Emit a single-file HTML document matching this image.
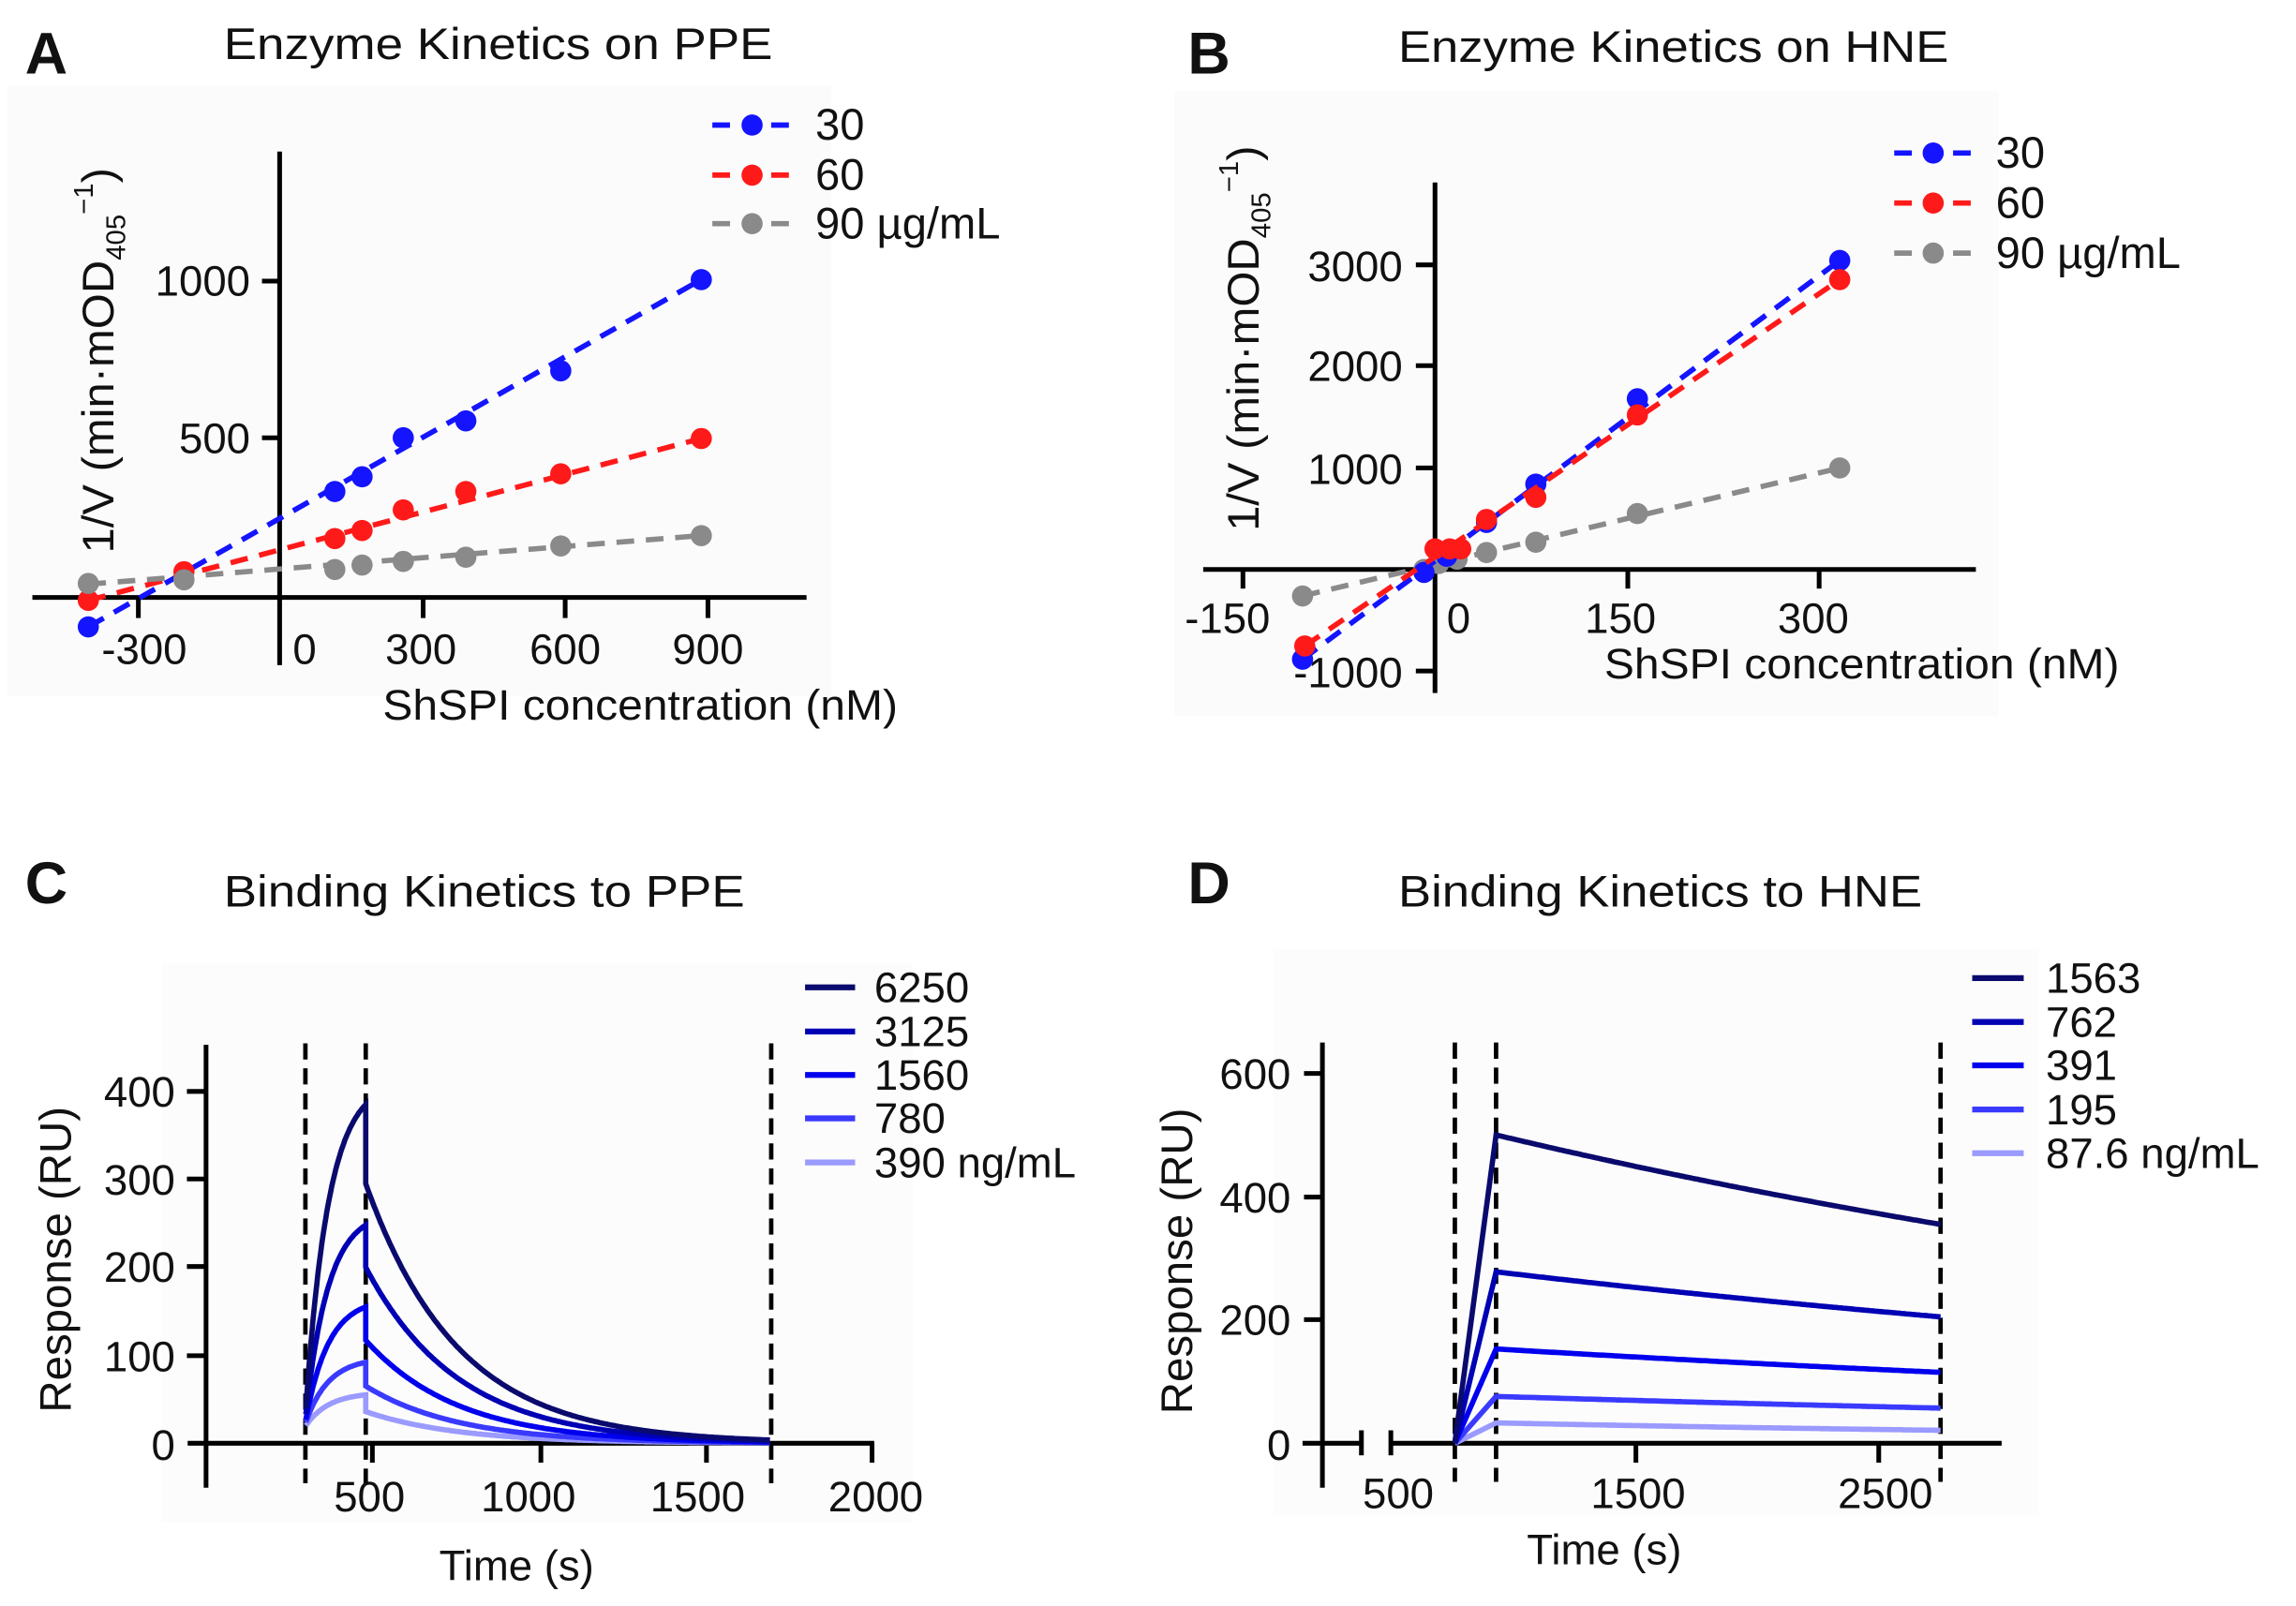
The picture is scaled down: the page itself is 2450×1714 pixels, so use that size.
<!DOCTYPE html>
<html><head><meta charset="utf-8"><style>
html,body{margin:0;padding:0;background:#fff;}
svg{display:block;}
text{font-family:"Liberation Sans",Arial,sans-serif;fill:#111;}
</style></head><body>
<svg id="s" width="2450" height="1714" viewBox="0 0 1560 1091.4" preserveAspectRatio="none" xmlns="http://www.w3.org/2000/svg">
<rect x="0" y="0" width="1560" height="1092" fill="#fff"/>
<rect x="5" y="58" width="560" height="415" fill="#fbfbfb"/>
<rect x="798" y="62" width="560" height="425" fill="#fbfbfb"/>
<rect x="110" y="655" width="510" height="380" fill="#fcfcfc"/>
<rect x="865" y="645" width="520" height="385" fill="#fcfcfc"/>

<!-- Panel A -->
<text x="17" y="50" font-size="40" font-weight="bold">A</text>
<text x="152" y="40" font-size="30" textLength="373" lengthAdjust="spacingAndGlyphs">Enzyme Kinetics on PPE</text>
<g stroke="#000" stroke-width="3.2" fill="none">
<line x1="190" y1="103" x2="190" y2="452"/>
<line x1="22" y1="406" x2="548" y2="406"/>
<line x1="190" y1="191" x2="178" y2="191"/>
<line x1="190" y1="297.5" x2="178" y2="297.5"/>
<line x1="94" y1="406" x2="94" y2="420"/>
<line x1="287.5" y1="406" x2="287.5" y2="420"/>
<line x1="384" y1="406" x2="384" y2="420"/>
<line x1="481" y1="406" x2="481" y2="420"/>
</g>
<g font-size="29" text-anchor="end">
<text x="170" y="201">1000</text>
<text x="170" y="308">500</text>
</g>
<g font-size="29" text-anchor="middle">
<text x="98" y="451">-300</text>
<text x="207" y="451">0</text>
<text x="286" y="451">300</text>
<text x="384" y="451">600</text>
<text x="481" y="451">900</text>
</g>
<text x="260" y="489" font-size="29" textLength="350" lengthAdjust="spacingAndGlyphs">ShSPI concentration (nM)</text>
<text transform="translate(77,376) rotate(-90)" font-size="30" textLength="262" lengthAdjust="spacingAndGlyphs">1/V (min·mOD<tspan font-size="18" dy="8">405</tspan><tspan dy="-22" font-size="18">−1</tspan><tspan dy="14" font-size="30">)</tspan></text>

<g id="A"></g>

<!-- Panel B -->
<text x="807" y="50" font-size="40" font-weight="bold">B</text>
<text x="950" y="42" font-size="30" textLength="374" lengthAdjust="spacingAndGlyphs">Enzyme Kinetics on HNE</text>
<g stroke="#000" stroke-width="3.2" fill="none">
<line x1="975" y1="124" x2="975" y2="471"/>
<line x1="817.5" y1="387" x2="1342.5" y2="387"/>
<line x1="975" y1="180" x2="962" y2="180"/>
<line x1="975" y1="248.5" x2="962" y2="248.5"/>
<line x1="975" y1="318" x2="962" y2="318"/>
<line x1="975" y1="456" x2="962" y2="456"/>
<line x1="844.5" y1="387" x2="844.5" y2="400"/>
<line x1="1106" y1="387" x2="1106" y2="400"/>
<line x1="1236" y1="387" x2="1236" y2="400"/>
</g>
<g font-size="29" text-anchor="end">
<text x="953" y="191">3000</text>
<text x="953" y="259">2000</text>
<text x="953" y="329">1000</text>
<text x="953" y="467">-1000</text>
</g>
<g font-size="29" text-anchor="middle">
<text x="834" y="430">-150</text>
<text x="991" y="430">0</text>
<text x="1101" y="430">150</text>
<text x="1232" y="430">300</text>
</g>
<text x="1090" y="461" font-size="29" textLength="350" lengthAdjust="spacingAndGlyphs">ShSPI concentration (nM)</text>
<text transform="translate(855,361) rotate(-90)" font-size="30" textLength="262" lengthAdjust="spacingAndGlyphs">1/V (min·mOD<tspan font-size="18" dy="8">405</tspan><tspan dy="-22" font-size="18">−1</tspan><tspan dy="14" font-size="30">)</tspan></text>

<g id="B"></g>

<!-- Panel C -->
<text x="17" y="614" font-size="40" font-weight="bold">C</text>
<text x="152" y="616" font-size="30" textLength="354" lengthAdjust="spacingAndGlyphs">Binding Kinetics to PPE</text>
<g stroke="#000" stroke-width="3.2" fill="none">
<line x1="140" y1="710" x2="140" y2="1011"/>
<line x1="127.5" y1="980.8" x2="594" y2="980.8"/>
<line x1="140" y1="741.7" x2="127" y2="741.7"/>
<line x1="140" y1="801.2" x2="127" y2="801.2"/>
<line x1="140" y1="860.7" x2="127" y2="860.7"/>
<line x1="140" y1="921.3" x2="127" y2="921.3"/>
<line x1="253" y1="980.8" x2="253" y2="994"/>
<line x1="367.5" y1="980.8" x2="367.5" y2="994"/>
<line x1="480" y1="980.8" x2="480" y2="994"/>
<line x1="592.5" y1="980.8" x2="592.5" y2="994"/>
</g>
<g font-size="29" text-anchor="end">
<text x="119" y="752">400</text>
<text x="119" y="812">300</text>
<text x="119" y="871">200</text>
<text x="119" y="932">100</text>
<text x="119" y="992">0</text>
</g>
<g font-size="29" text-anchor="middle">
<text x="251" y="1027">500</text>
<text x="359" y="1027">1000</text>
<text x="474" y="1027">1500</text>
<text x="595" y="1027">2000</text>
</g>
<text x="351" y="1074" font-size="29" text-anchor="middle">Time (s)</text>
<text transform="translate(48,856) rotate(-90)" font-size="30" text-anchor="middle" textLength="208" lengthAdjust="spacingAndGlyphs">Response (RU)</text>
<g stroke="#000" stroke-width="3" stroke-dasharray="11 6">
<line x1="207.5" y1="709" x2="207.5" y2="1008"/>
<line x1="248.5" y1="709" x2="248.5" y2="1008"/>
<line x1="524" y1="709" x2="524" y2="1008"/>
</g>
<g id="C"></g>

<!-- Panel D -->
<text x="807" y="614" font-size="40" font-weight="bold">D</text>
<text x="950" y="616" font-size="30" textLength="356" lengthAdjust="spacingAndGlyphs">Binding Kinetics to HNE</text>
<g stroke="#000" stroke-width="3.2" fill="none">
<line x1="898.5" y1="708.5" x2="898.5" y2="1011"/>
<line x1="885" y1="980.8" x2="925" y2="980.8"/>
<line x1="945" y1="980.8" x2="1360" y2="980.8"/>
<line x1="925" y1="972" x2="925" y2="989"/>
<line x1="945" y1="972" x2="945" y2="989"/>
<line x1="898.5" y1="729.5" x2="886" y2="729.5"/>
<line x1="898.5" y1="813.5" x2="886" y2="813.5"/>
<line x1="898.5" y1="896.8" x2="886" y2="896.8"/>
<line x1="1111.5" y1="980.8" x2="1111.5" y2="994"/>
<line x1="1276.5" y1="980.8" x2="1276.5" y2="994"/>
</g>
<g font-size="29" text-anchor="end">
<text x="877" y="740">600</text>
<text x="877" y="824">400</text>
<text x="877" y="907">200</text>
<text x="877" y="992">0</text>
</g>
<g font-size="29" text-anchor="middle">
<text x="950" y="1025">500</text>
<text x="1113" y="1025">1500</text>
<text x="1281" y="1025">2500</text>
</g>
<text x="1090" y="1063" font-size="29" text-anchor="middle">Time (s)</text>
<text transform="translate(810,857) rotate(-90)" font-size="30" text-anchor="middle" textLength="208" lengthAdjust="spacingAndGlyphs">Response (RU)</text>
<g stroke="#000" stroke-width="3" stroke-dasharray="11 6">
<line x1="988.5" y1="708.5" x2="988.5" y2="1007"/>
<line x1="1016.5" y1="708.5" x2="1016.5" y2="1007"/>
<line x1="1318.5" y1="708.5" x2="1318.5" y2="1007"/>
</g>
<g id="D"></g>
</svg>
<script>
var NS="http://www.w3.org/2000/svg";
function el(p,tag,attrs,txt){var e=document.createElementNS(NS,tag);for(var k in attrs)e.setAttribute(k,attrs[k]);if(txt)e.textContent=txt;document.getElementById(p).appendChild(e);return e;}
function series(g,pts,line,col){
 el(g,"line",{x1:line[0],y1:line[1],x2:line[2],y2:line[3],stroke:col,"stroke-width":3.6,"stroke-dasharray":"12 8"});
 pts.forEach(function(p){el(g,"circle",{cx:p[0],cy:p[1],r:7.2,fill:col});});
}
function legendK(g,x0,x1,xt,ys,cols,labels){
 for(var i=0;i<ys.length;i++){
  el(g,"line",{x1:x0,y1:ys[i],x2:x1,y2:ys[i],stroke:cols[i],"stroke-width":3.6,"stroke-dasharray":"12 8"});
  el(g,"circle",{cx:(x0+x1)/2,cy:ys[i],r:7.2,fill:cols[i]});
  el(g,"text",{x:xt,y:ys[i]+10,"font-size":30},labels[i]);
 }
}
var blue="#1414ff",red="#ff1a1a",gray="#8a8a8a";
series("A",[[60,426],[227.5,334],[246,324],[274,297.5],[316.5,286],[381,252],[476.5,190]],[60,426,476.5,190],blue);
series("A",[[60,408],[125,388.5],[227.5,366],[246,360.5],[274,346.5],[316.5,334],[381,322],[476.5,298]],[60,408,476.5,298],red);
series("A",[[60,396.5],[125,394],[227.5,387],[246,384],[274,381.5],[316.5,378.7],[381,371],[476.5,364]],[60,397,476.5,364],gray);
legendK("A",484,538,554,[85,119,152],[blue,red,gray],["30","60","90 µg/mL"]);
series("B",[[885,405],[967.5,387],[977.5,383],[990,380],[1010,375.5],[1043.5,368.5],[1112.5,349],[1250,318]],[885,405,1250,318],gray);
series("B",[[885,448],[967.5,389],[983,378],[1010,355],[1043.5,329],[1112.5,271],[1250,177]],[885,448,1250,177],blue);
series("B",[[886.5,439],[975,373],[985,373],[992.5,373],[1010,353],[1043.5,338],[1112.5,282],[1250,190]],[886.5,439,1250,190],red);
legendK("B",1287,1340,1356,[104,138,172],[blue,red,gray],["30","60","90 µg/mL"]);
var cc=["#0a0a6e","#0000b4","#0000ee","#3a3aff","#9a9aff"];
var cpk=[[385,295,40],[248,200,33],[155,117,27],[92,65,24],[55,36,20]];
function xC(t){return 140+t*(113/500);}function yC(r){return 980.8-r*0.598;}
for(var i=4;i>=0;i--){
 var P=cpk[i][0],D=cpk[i][1],S=cpk[i][2],a=2.6,d="";
 for(var t=300;t<=480;t+=3){var s=(t-300)/180;var r=S+(P-S)*(1-Math.exp(-a*s))/(1-Math.exp(-a));d+=(t==300?"M":"L")+xC(t).toFixed(1)+","+yC(r).toFixed(1);}
 for(var t=480;t<=1695;t+=5){var r=D*Math.exp(-0.0036*(t-480));d+="L"+xC(t).toFixed(1)+","+yC(r).toFixed(1);}
 el("C","path",{d:d,fill:"none",stroke:cc[i],"stroke-width":3.6});
}
var cl=["6250","3125","1560","780","390 ng/mL"],cy=[671,701,730.5,760,790];
for(var i=0;i<5;i++){el("C","line",{x1:547,y1:cy[i],x2:581,y2:cy[i],stroke:cc[i],"stroke-width":4});el("C","text",{x:594,y:cy[i]+10,"font-size":29},cl[i]);}
var dpk=[[500,355],[278,205],[153,115],[76,57],[33,21]];
function xD(t){return 1016.5+(t-930)*0.165;}function yD(r){return 980.8-r*0.419;}
for(var i=4;i>=0;i--){
 var P=dpk[i][0],E=dpk[i][1],k=Math.log(P/E)/1830,d="M"+xD(760)+","+yD(0)+"L"+xD(930)+","+yD(P).toFixed(1);
 for(var t=940;t<=2760;t+=10){d+="L"+xD(t).toFixed(1)+","+yD(P*Math.exp(-k*(t-930))).toFixed(1);}
 el("D","path",{d:d,fill:"none",stroke:cc[i],"stroke-width":3.6});
}
var dl=["1563","762","391","195","87.6 ng/mL"],dy=[664.7,694.5,724,754,783.7];
for(var i=0;i<5;i++){el("D","line",{x1:1340,y1:dy[i],x2:1375,y2:dy[i],stroke:cc[i],"stroke-width":4});el("D","text",{x:1390,y:dy[i]+10,"font-size":29},dl[i]);}
</script>
</body></html>
